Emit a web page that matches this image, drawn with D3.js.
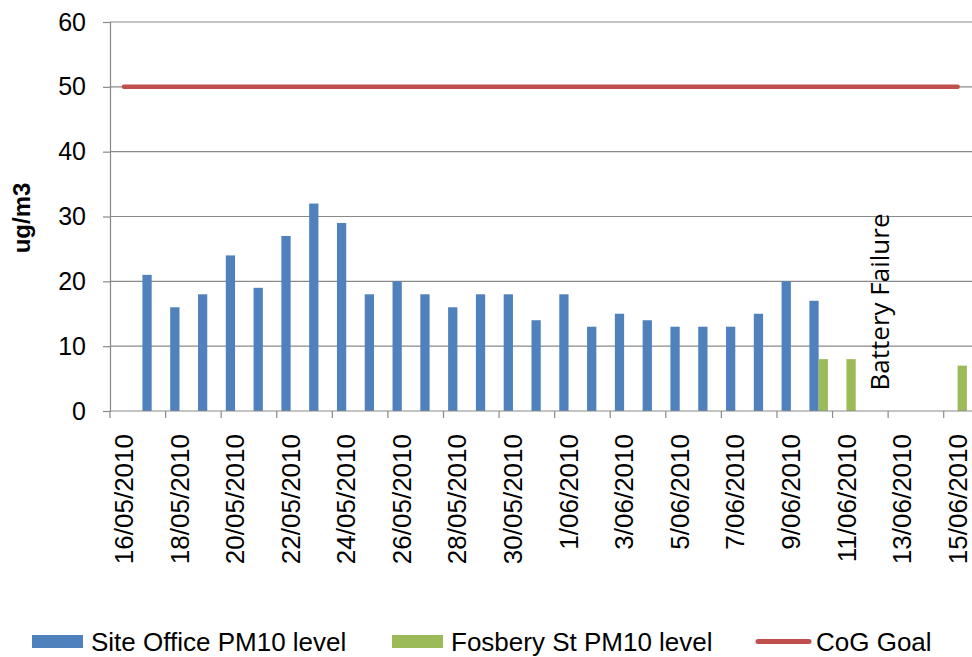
<!DOCTYPE html>
<html lang="en">
<head>
    <title>PM10 levels</title>
    <style>
        html, body {margin: 0;padding: 0;background: #fff;}
        svg {font-family: "Liberation Sans", Arial, sans-serif;display: block;}
    </style>
</head>
<body>
<div id="chart"></div>
<script src="https://cdnjs.cloudflare.com/ajax/libs/d3/7.8.5/d3.min.js"></script>
<script>
  var dates = ['16/05/2010', '17/05/2010', '18/05/2010', '19/05/2010', '20/05/2010', '21/05/2010', '22/05/2010',
    '23/05/2010', '24/05/2010', '25/05/2010', '26/05/2010', '27/05/2010', '28/05/2010', '29/05/2010', '30/05/2010',
    '31/05/2010', '1/06/2010', '2/06/2010', '3/06/2010', '4/06/2010', '5/06/2010', '6/06/2010', '7/06/2010',
    '8/06/2010', '9/06/2010', '10/06/2010', '11/06/2010', '12/06/2010', '13/06/2010', '14/06/2010', '15/06/2010'];

  // null = no reading that day
  var siteOffice = [null, 21, 16, 18, 24, 19, 27, 32, 29, 18, 20, 18, 16, 18, 18, 14, 18, 13, 15, 14, 13, 13, 13,
    15, 20, 17, null, null, null, null, null];
  var fosbery = [null, null, null, null, null, null, null, null, null, null, null, null, null, null, null, null,
    null, null, null, null, null, null, null, null, null, 8, 8, null, null, null, 7];
  var goal = dates.map(function () { return 50; });

  var yTicks = [0, 10, 20, 30, 40, 50, 60];
  var seriesNames = ['Site Office PM10 level', 'Fosbery St PM10 level', 'CoG Goal'];
  var colors = {'Site Office PM10 level': '#4F81BD', 'Fosbery St PM10 level': '#9BBB59', 'CoG Goal': '#C0504D'};

  (function () {
    var width = 972, height = 657;
    var pLeft = 110, pRight = 971.5, pTop = 22, pBottom = 411;
    var gridColor = '#898989';

    var svg = d3.select('#chart').append('svg')
      .attr('width', width)
      .attr('height', height);

    var x = d3.scaleBand().domain(dates).range([pLeft, pRight]).padding(0);
    var sub = d3.scaleBand().domain(seriesNames.slice(0, 2)).range([0, x.bandwidth()])
      .paddingInner(0).paddingOuter(0.5);
    var y = d3.scaleLinear().domain([0, 60]).range([pBottom, pTop]);

    // gridlines
    svg.append('g').selectAll('line')
      .data(yTicks.filter(function (d) { return d > 0; }))
      .join('line')
      .attr('x1', pLeft).attr('x2', width)
      .attr('y1', function (d) { return y(d); })
      .attr('y2', function (d) { return y(d); })
      .attr('stroke', gridColor).attr('stroke-width', 1.2);

    // y axis
    var yAxis = svg.append('g')
      .attr('transform', 'translate(' + pLeft + ',0)')
      .call(d3.axisLeft(y).tickValues(yTicks).tickSize(7).tickPadding(17));
    yAxis.select('.domain').attr('stroke', gridColor).attr('stroke-width', 1.2);
    yAxis.selectAll('.tick line').attr('stroke', gridColor).attr('stroke-width', 1.2);
    yAxis.selectAll('.tick text')
      .attr('font-size', '25px')
      .attr('font-family', '"Liberation Sans", Arial, sans-serif')
      .attr('fill', '#000');

    // bars
    var bars = svg.append('g');
    bars.selectAll('rect.site')
      .data(dates.map(function (d, i) { return {date: d, v: siteOffice[i]}; })
        .filter(function (d) { return d.v !== null; }))
      .join('rect')
      .attr('class', 'site')
      .attr('x', function (d) { return x(d.date) + sub(seriesNames[0]); })
      .attr('width', sub.bandwidth())
      .attr('y', function (d) { return y(d.v); })
      .attr('height', function (d) { return y(0) - y(d.v); })
      .attr('fill', colors[seriesNames[0]]);
    bars.selectAll('rect.fos')
      .data(dates.map(function (d, i) { return {date: d, v: fosbery[i]}; })
        .filter(function (d) { return d.v !== null; }))
      .join('rect')
      .attr('class', 'fos')
      .attr('x', function (d) { return x(d.date) + sub(seriesNames[1]); })
      .attr('width', sub.bandwidth())
      .attr('y', function (d) { return y(d.v); })
      .attr('height', function (d) { return y(0) - y(d.v); })
      .attr('fill', colors[seriesNames[1]]);

    // x axis line + ticks every 2 days on category boundaries
    svg.append('line')
      .attr('x1', pLeft).attr('x2', width)
      .attr('y1', pBottom).attr('y2', pBottom)
      .attr('stroke', gridColor).attr('stroke-width', 1.2);
    var everyOther = dates.filter(function (d, i) { return i % 2 === 0; });
    svg.append('g').selectAll('line')
      .data(everyOther)
      .join('line')
      .attr('x1', function (d) { return x(d); })
      .attr('x2', function (d) { return x(d); })
      .attr('y1', pBottom).attr('y2', pBottom + 7)
      .attr('stroke', gridColor).attr('stroke-width', 1.2);
    svg.append('g').selectAll('text')
      .data(everyOther)
      .join('text')
      .attr('transform', function (d) {
        return 'translate(' + (x(d) + x.bandwidth() / 2) + ',434) rotate(-90)';
      })
      .attr('text-anchor', 'end')
      .attr('dy', '0.35em')
      .attr('font-size', '26px')
      .text(function (d) { return d; });

    // goal line
    var line = d3.line()
      .x(function (d, i) { return x(dates[i]) + x.bandwidth() / 2; })
      .y(function (d) { return y(d); });
    svg.append('path')
      .datum(goal)
      .attr('d', line)
      .attr('fill', 'none')
      .attr('stroke', colors['CoG Goal'])
      .attr('stroke-width', 4.5)
      .attr('stroke-linecap', 'round');

    // annotation
    svg.append('text')
      .attr('transform', 'translate(880,302) rotate(-90)')
      .attr('text-anchor', 'middle')
      .attr('dy', '0.35em')
      .attr('font-family', '"Open Sans", sans-serif')
      .attr('font-size', '26px')
      .text('Battery Failure');

    // y title
    svg.append('text')
      .attr('transform', 'translate(22,218) rotate(-90)')
      .attr('text-anchor', 'middle')
      .attr('dy', '0.35em')
      .attr('font-weight', 'bold')
      .attr('font-size', '24px')
      .text('ug/m3');

    // legend
    var legendX = [32, 392, 756];
    var lg = svg.append('g').selectAll('g')
      .data(seriesNames)
      .join('g')
      .attr('transform', function (d, i) { return 'translate(' + legendX[i] + ',641.5)'; });
    lg.filter(function (d, i) { return i < 2; })
      .append('rect')
      .attr('x', 0).attr('y', -6.5)
      .attr('width', 51).attr('height', 13)
      .attr('fill', function (d) { return colors[d]; });
    lg.filter(function (d, i) { return i === 2; })
      .append('line')
      .attr('x1', 2).attr('x2', 53)
      .attr('stroke', function (d) { return colors[d]; })
      .attr('stroke-width', 5)
      .attr('stroke-linecap', 'round');
    lg.append('text')
      .attr('x', function (d, i) { return i === 2 ? 60 : 59; })
      .attr('y', 9)
      .attr('font-size', '26px')
      .text(function (d) { return d; });
  })();
</script>
</body>
</html>
